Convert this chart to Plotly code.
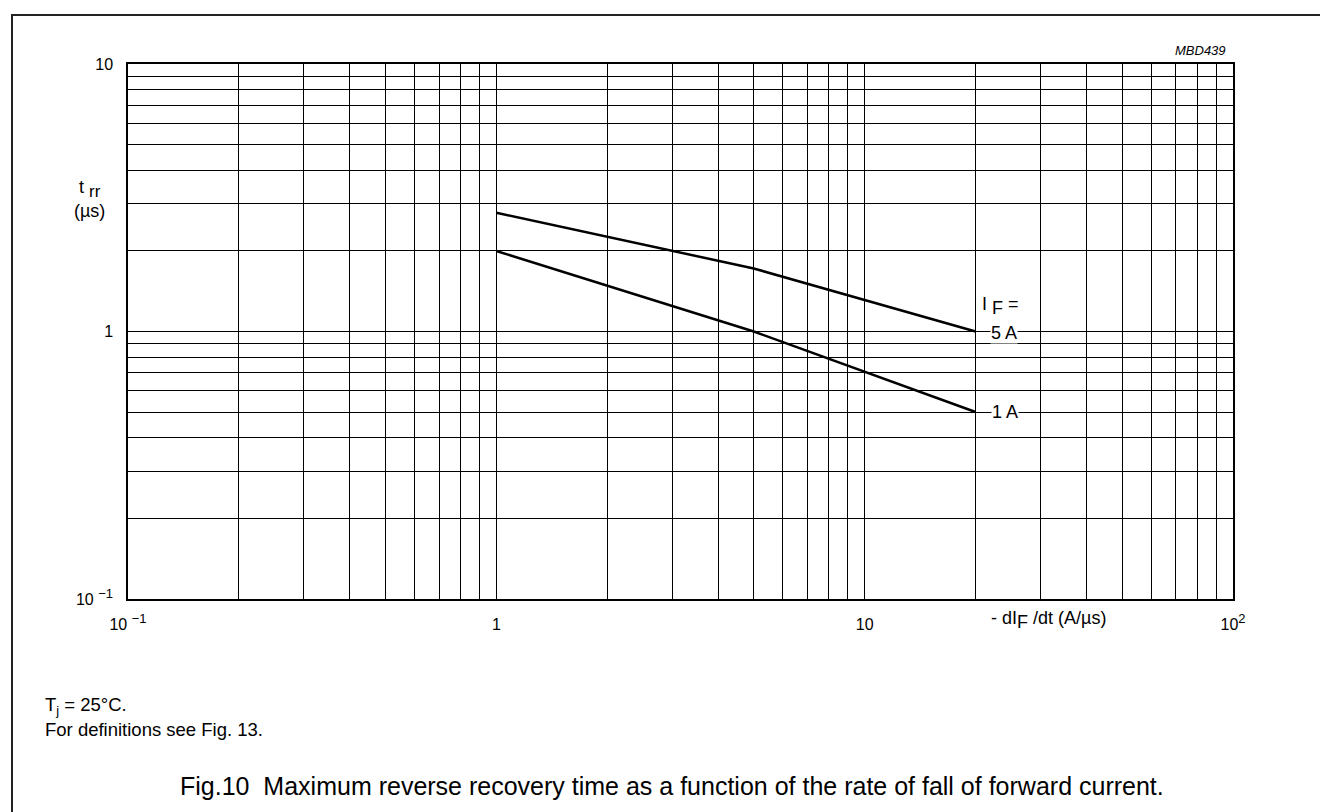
import plotly.graph_objects as go

# ---- data ----
rate_5A = [1, 3, 5, 20]          # -dI_F/dt (A/us)
trr_5A = [2.78, 2.0, 1.72, 1.0]  # t_rr (us)
rate_1A = [1, 5, 20]
trr_1A = [2.0, 1.0, 0.5]

decades_x = [0.1, 1, 10]
decades_y = [0.1, 1]
multipliers = [1, 2, 3, 4, 5, 6, 7, 8, 9]
x_major = [0.1, 1, 10, 100]
y_major = [0.1, 1, 10]


def sup(s):
    return '<sup><span style="font-size:13px">%s</span></sup>' % s


x_major_labels = ["10 " + sup("\u22121"), "1", "10", "10" + sup("2")]
y_major_labels = ["10 " + sup("\u22121"), "1", "10"]

x_tickvals = [d * m for d in decades_x for m in multipliers] + [100]
y_tickvals = [d * m for d in decades_y for m in multipliers] + [10]


def label_for(v, majors, labels):
    for mv, lab in zip(majors, labels):
        if abs(v - mv) < 1e-9 * max(1, mv):
            return lab
    return ""


x_ticktext = [label_for(v, x_major, x_major_labels) for v in x_tickvals]
y_ticktext = [label_for(v, y_major, y_major_labels) for v in y_tickvals]

FONT = "Liberation Sans, Arial, Helvetica, sans-serif"

W, H = 1328, 812
L, R, T, B = 120, 1225, 56, 591


def px(x):
    return (x - L) / (R - L)


def py(y):
    return (B - y) / (B - T)


def bigsub(s, size):
    return '<sub><span style="font-size:%dpx">%s</span></sub>' % (size, s)


fig = go.Figure()
fig.add_trace(go.Scatter(x=rate_5A, y=trr_5A, mode="lines",
                         line=dict(color="black", width=2.5),
                         hoverinfo="skip", showlegend=False))
fig.add_trace(go.Scatter(x=rate_1A, y=trr_1A, mode="lines",
                         line=dict(color="black", width=2.5),
                         hoverinfo="skip", showlegend=False))

axis_common = dict(
    showgrid=True, gridcolor="black", gridwidth=1,
    showline=True, linecolor="black", linewidth=1.5, mirror=True,
    ticks="", zeroline=False,
    tickfont=dict(family=FONT, size=16, color="black"),
    ticklabelstandoff=10,
)

fig.update_layout(
    width=W, height=H,
    margin=dict(l=L, r=W - R, t=T, b=H - B),
    paper_bgcolor="white", plot_bgcolor="white",
    font=dict(family=FONT, color="black"),
    xaxis=dict(type="log", range=[-1, 2], tickmode="array",
               tickvals=x_tickvals, ticktext=x_ticktext, **axis_common),
    yaxis=dict(type="log", range=[-1, 1], tickmode="array",
               tickvals=y_tickvals, ticktext=y_ticktext, **axis_common),
    showlegend=False,
)

ann = [
    dict(text="<i>MBD439</i>", x=px(1220), y=py(43), xanchor="right", yanchor="middle",
         font=dict(size=13, family=FONT, color="black"), showarrow=False),
    dict(text="t " + bigsub("rr", 17), x=px(82), y=py(181), xanchor="center", yanchor="middle",
         font=dict(size=18, family=FONT), showarrow=False),
    dict(text="(\u00b5s)", x=px(81), y=py(203), xanchor="center", yanchor="middle",
         font=dict(size=18, family=FONT), showarrow=False),
    dict(text="- dI" + bigsub("F", 18) + " /dt (A/\u00b5s)", x=px(1040), y=py(612),
         xanchor="center", yanchor="middle", font=dict(size=18, family=FONT), showarrow=False),
    dict(text="I " + bigsub("F", 18) + " =", x=px(992), y=py(298), xanchor="center",
         yanchor="middle", font=dict(size=18, family=FONT), showarrow=False),
    dict(text="5 A", x=px(996), y=py(325), xanchor="center", yanchor="middle",
         font=dict(size=18, family=FONT), showarrow=False, bgcolor="white", borderpad=0),
    dict(text="1 A", x=px(997), y=py(404), xanchor="center", yanchor="middle",
         font=dict(size=18, family=FONT), showarrow=False, bgcolor="white", borderpad=0),
    dict(text="T<sub>j</sub> = 25\u00b0C.", x=px(35), y=py(698), xanchor="left", yanchor="middle",
         font=dict(size=18.5, family=FONT), showarrow=False),
    dict(text="For definitions see Fig. 13.", x=px(35), y=py(721), xanchor="left",
         yanchor="middle", font=dict(size=18.5, family=FONT), showarrow=False),
    dict(text="Fig.10  Maximum reverse recovery time as a function of the rate of fall of forward current.",
         x=px(664), y=py(778), xanchor="center", yanchor="middle",
         font=dict(size=25, family=FONT), showarrow=False),
]
for a in ann:
    a.setdefault("xref", "paper")
    a.setdefault("yref", "paper")
fig.update_layout(annotations=ann)

fig.add_shape(type="rect", xref="paper", yref="paper",
              x0=px(4), x1=px(1323), y0=py(830), y1=py(7),
              line=dict(color="#222", width=2), fillcolor="rgba(0,0,0,0)", layer="above")

fig.write_html("out.html")
